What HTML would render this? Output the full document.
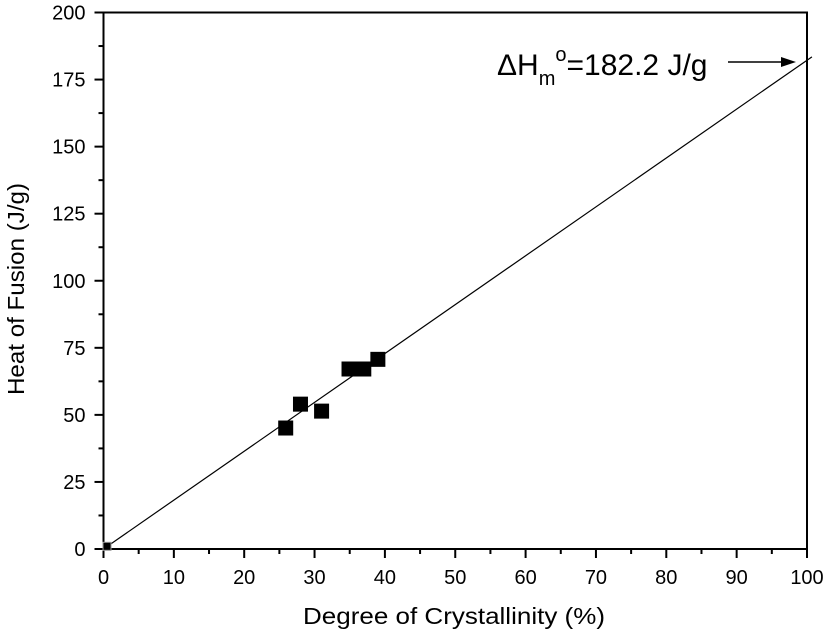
<!DOCTYPE html>
<html><head><meta charset="utf-8"><style>
body{margin:0;background:#fff}
svg{display:block;font-family:"Liberation Sans",Arial,sans-serif}
</style></head><body>
<svg id="chart" width="827" height="635" viewBox="0 0 827 635" xmlns="http://www.w3.org/2000/svg"></svg>
<script>
const xVals=[0.5,25.9,28.0,31.0,34.9,37.0,39.0];
const yVals=[1,45.1,54,51.4,67.1,67.1,70.7];
const xTicks=[0,10,20,30,40,50,60,70,80,90,100];
const yTicks=[0,25,50,75,100,125,150,175,200];
const fitSlope=[1.822];
const NS='http://www.w3.org/2000/svg';
const svg=document.getElementById('chart');
const L=103.5,R=807,B=549,T=12.5;
const sx=v=>L+(v-0)/100*(R-L);
const sy=v=>B-(v-0)/200*(B-T);
function mk(tag,attrs,parent){const e=document.createElementNS(NS,tag);for(const k in attrs)e.setAttribute(k,attrs[k]);(parent||svg).appendChild(e);return e;}
const frame=mk('rect',{x:L,y:T,width:R-L,height:B-T,fill:'none',stroke:'#000','stroke-width':2});


const xg=mk('g',{});


xTicks.forEach((t,i)=>{
  mk('line',{x1:sx(t),x2:sx(t),y1:B,y2:B+9,stroke:'#000','stroke-width':2},xg);
  if(i<xTicks.length-1){const m=(t+xTicks[i+1])/2;mk('line',{x1:sx(m),x2:sx(m),y1:B,y2:B+5,stroke:'#000','stroke-width':2},xg);}
  const tx=mk('text',{x:sx(t),y:B+35,'text-anchor':'middle','font-size':20},xg);tx.textContent=t;
  
  
});
const yg=mk('g',{});


yTicks.forEach((t,i)=>{
  mk('line',{x1:L-9,x2:L,y1:sy(t),y2:sy(t),stroke:'#000','stroke-width':2},yg);
  if(i<yTicks.length-1){const m=(t+yTicks[i+1])/2;mk('line',{x1:L-5,x2:L,y1:sy(m),y2:sy(m),stroke:'#000','stroke-width':2},yg);}
  const tx=mk('text',{x:L-18,y:sy(t)+7,'text-anchor':'end','font-size':20},yg);tx.textContent=t;
  
  
});
const xt=mk('text',{x:303,y:624,'font-size':23,textLength:302,lengthAdjust:'spacingAndGlyphs'});xt.textContent='Degree of Crystallinity (%)';


const yt=mk('text',{x:-106,y:0,'font-size':23,textLength:212,lengthAdjust:'spacingAndGlyphs',transform:'translate(24,289) rotate(-90)'});yt.textContent='Heat of Fusion (J/g)';


const fit=mk('line',{x1:sx(0),y1:sy(0),x2:sx(100.7),y2:sy(100.7*fitSlope[0]),stroke:'#000','stroke-width':1.2});


xVals.forEach((x,i)=>{
  const s=i===0?8:15;
  const r=mk('rect',{x:sx(x)-s/2,y:sy(yVals[i])-s/2,width:s,height:s,fill:'#000',stroke:i===0?'#999':'none','stroke-width':1});
  
  
});
const ann=mk('text',{x:497,y:75,'font-size':30});
ann.innerHTML='ΔH<tspan font-size="20" dy="10">m</tspan><tspan font-size="20" dy="-24">o</tspan><tspan dy="14">=182.2 J/g</tspan>';


const arr=mk('g',{});


mk('line',{x1:728,y1:62,x2:790,y2:62,stroke:'#000','stroke-width':1.5},arr);
mk('polygon',{points:'796,62 781,57 781,67',fill:'#000'},arr);
</script>
</body></html>
